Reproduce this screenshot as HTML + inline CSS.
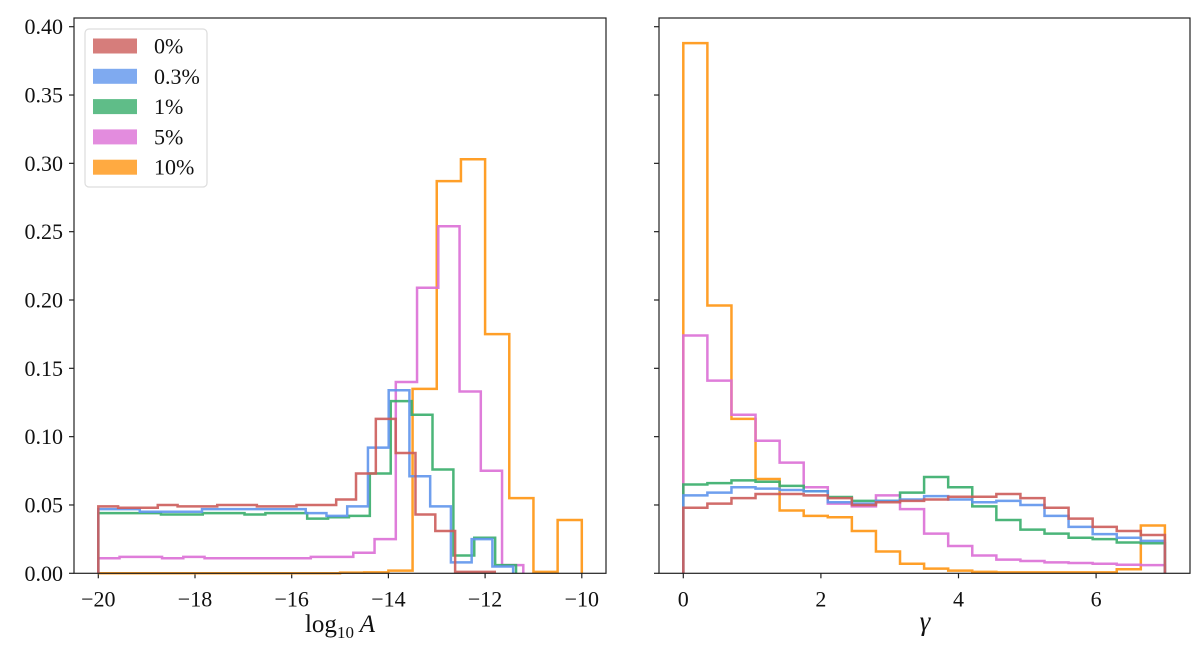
<!DOCTYPE html>
<html><head><meta charset="utf-8">
<style>
body{margin:0;background:#fff;}
svg text{font-family:"Liberation Serif",serif;fill:#111;}
</style></head>
<body>
<svg id="chart" width="1200" height="655" viewBox="0 0 1200 655" xmlns="http://www.w3.org/2000/svg">
<g id="left"></g>
<g id="right"></g>
</svg>
<script>
const seriesLabels = ["0%", "0.3%", "1%", "5%", "10%"];
const seriesColors = ["#cc5c5a", "#5f95ec", "#37ad6a", "#dc6fd6", "#ff9511"];
// left panel: log10 A, 20 bins per series over [min,max]
const leftMin = [-20, -20, -20, -20, -20];
const leftMax = [-11.8, -11.42, -11.36, -11.21, -10];
const leftRed = [0.049,0.048,0.048,0.050,0.049,0.049,0.050,0.050,0.049,0.049,0.050,0.050,0.054,0.073,0.113,0.088,0.043,0.031,0.001,0.001];
const leftBlue = [0.047,0.047,0.045,0.045,0.045,0.047,0.047,0.047,0.047,0.047,0.044,0.042,0.049,0.092,0.134,0.071,0.049,0.008,0.025,0.005];
const leftGreen = [0.044,0.044,0.044,0.043,0.043,0.044,0.044,0.043,0.044,0.044,0.040,0.041,0.042,0.073,0.126,0.116,0.076,0.013,0.026,0.006];
const leftPink = [0.011,0.012,0.012,0.011,0.012,0.011,0.011,0.011,0.011,0.011,0.012,0.012,0.015,0.025,0.140,0.209,0.254,0.133,0.075,0.006];
const leftOrange = [0,0,0,0,0,0,0,0,0,0,0.0005,0.0007,0.002,0.135,0.287,0.303,0.175,0.055,0.001,0.039];
// right panel: gamma, 20 bins over [0,7]
const rightMin = 0, rightMax = 7;
const rightRed = [0.048,0.051,0.055,0.058,0.058,0.057,0.055,0.050,0.052,0.053,0.054,0.056,0.056,0.058,0.055,0.048,0.040,0.034,0.031,0.028];
const rightBlue = [0.057,0.059,0.063,0.062,0.061,0.060,0.052,0.051,0.053,0.054,0.0565,0.054,0.052,0.053,0.050,0.042,0.034,0.0287,0.026,0.0237];
const rightGreen = [0.065,0.066,0.068,0.067,0.064,0.060,0.0558,0.053,0.053,0.059,0.0705,0.063,0.049,0.039,0.032,0.029,0.026,0.025,0.0225,0.022];
const rightPink = [0.174,0.141,0.116,0.097,0.081,0.063,0.051,0.049,0.057,0.047,0.029,0.020,0.013,0.010,0.009,0.008,0.0075,0.007,0.0063,0.006];
const rightOrange = [0.388,0.196,0.113,0.069,0.046,0.042,0.041,0.031,0.016,0.007,0.0034,0.002,0.001,0.0007,0.0007,0.0007,0.0007,0.0007,0.003,0.035];
const yTicks = [0, 0.05, 0.10, 0.15, 0.20, 0.25, 0.30, 0.35, 0.40];
const yTickLabels = ["0.00","0.05","0.10","0.15","0.20","0.25","0.30","0.35","0.40"];
const leftXTicks = [-20, -18, -16, -14, -12, -10];
const rightXTicks = [0, 2, 4, 6];

const NS = "http://www.w3.org/2000/svg";
const Y0 = 573.3, YPX = 1366.5;
function yScale(v){ return Y0 - v*YPX; }
function xLeft(v){ return 98.3 + (v+20)*48.35; }
function xRight(v){ return 683.3 + v*68.8; }
function mk(tag, attrs, parent){
  const e = document.createElementNS(NS, tag);
  for (const k in attrs) e.setAttribute(k, attrs[k]);
  parent.appendChild(e); return e;
}
function stepPath(vals, lo, hi, xs){
  const w = (hi-lo)/vals.length;
  let d = "M"+xs(lo).toFixed(2)+","+yScale(0).toFixed(2);
  vals.forEach((v,i)=>{
    const a = xs(lo+i*w), b = xs(lo+(i+1)*w), y = yScale(v);
    d += " L"+a.toFixed(2)+","+y.toFixed(2)+" L"+b.toFixed(2)+","+y.toFixed(2);
  });
  d += " L"+xs(hi).toFixed(2)+","+yScale(0).toFixed(2);
  return d;
}
function panel(g, bx0, bx1, xs, xticks, xtickLabels, showY, name){
  mk("rect",{x:bx0,y:18,width:bx1-bx0,height:Y0-18,fill:"#fff"},g);
  yTicks.forEach((t,i)=>{
    const y = yScale(t);
    const tk = mk("line",{x1:bx0-5,x2:bx0,y1:y,y2:y,stroke:"#222","stroke-width":1.2},g);
    
    
    if (showY){
      const tx = mk("text",{x:bx0-11,y:y+7.5,"text-anchor":"end","font-size":22},g);
      tx.textContent = yTickLabels[i];
      
      
    }
  });
  xticks.forEach((t,i)=>{
    const x = xs(t);
    const tk = mk("line",{x1:x,x2:x,y1:Y0,y2:Y0+5,stroke:"#222","stroke-width":1.2},g);
    
    
    const tx = mk("text",{x:x,y:Y0+33,"text-anchor":"middle","font-size":22},g);
    tx.textContent = xtickLabels[i];
    
    
  });
}
const L = document.getElementById("left"), R = document.getElementById("right");
panel(L, 74, 606, xLeft, leftXTicks, leftXTicks.map(t=>t<0?"\u2212"+Math.abs(t):""+t), true, "left");
panel(R, 659, 1190, xRight, rightXTicks, rightXTicks.map(String), false, "right");

const leftData = [leftRed, leftBlue, leftGreen, leftPink, leftOrange];
const rightData = [rightRed, rightBlue, rightGreen, rightPink, rightOrange];
const drawOrder = [4,3,2,1,0];
drawOrder.forEach(s=>{
  const p = mk("path",{d:stepPath(leftData[s], leftMin[s], leftMax[s], xLeft),fill:"none",stroke:seriesColors[s],"stroke-width":2.5,"stroke-opacity":0.9,"stroke-linejoin":"miter"},L);
  
  
  const q = mk("path",{d:stepPath(rightData[s], rightMin, rightMax, xRight),fill:"none",stroke:seriesColors[s],"stroke-width":2.5,"stroke-opacity":0.9,"stroke-linejoin":"miter"},R);
  
  
});
// frames
const f1 = mk("rect",{x:74,y:18,width:532,height:Y0-18,fill:"none",stroke:"#222","stroke-width":1.2},L);


const f2 = mk("rect",{x:659,y:18,width:531,height:Y0-18,fill:"none",stroke:"#222","stroke-width":1.2},R);


// x labels
const xl = mk("text",{x:340,y:632,"text-anchor":"middle","font-size":25},L);
xl.innerHTML = 'log<tspan font-size="17" dy="6">10</tspan><tspan dy="-6" font-style="italic"> A</tspan>';


const xr = mk("text",{x:925,y:630,"text-anchor":"middle","font-size":27,"font-style":"italic"},R);
xr.textContent = "\u03B3";


// legend
const lg = mk("g",{},L);


mk("rect",{x:85,y:29,width:122,height:158,rx:4,fill:"#fff","fill-opacity":0.85,stroke:"#ddd","stroke-width":1.2},lg);
seriesLabels.forEach((lab,i)=>{
  const cy = 46 + i*30.3;
  const sw = mk("rect",{x:93,y:cy-7.5,width:44,height:15,fill:seriesColors[i],"fill-opacity":0.8},lg);
  
  
  const t = mk("text",{x:154,y:cy+7.5,"font-size":22},lg);
  t.textContent = lab;
  
  
});
</script>
</body></html>
